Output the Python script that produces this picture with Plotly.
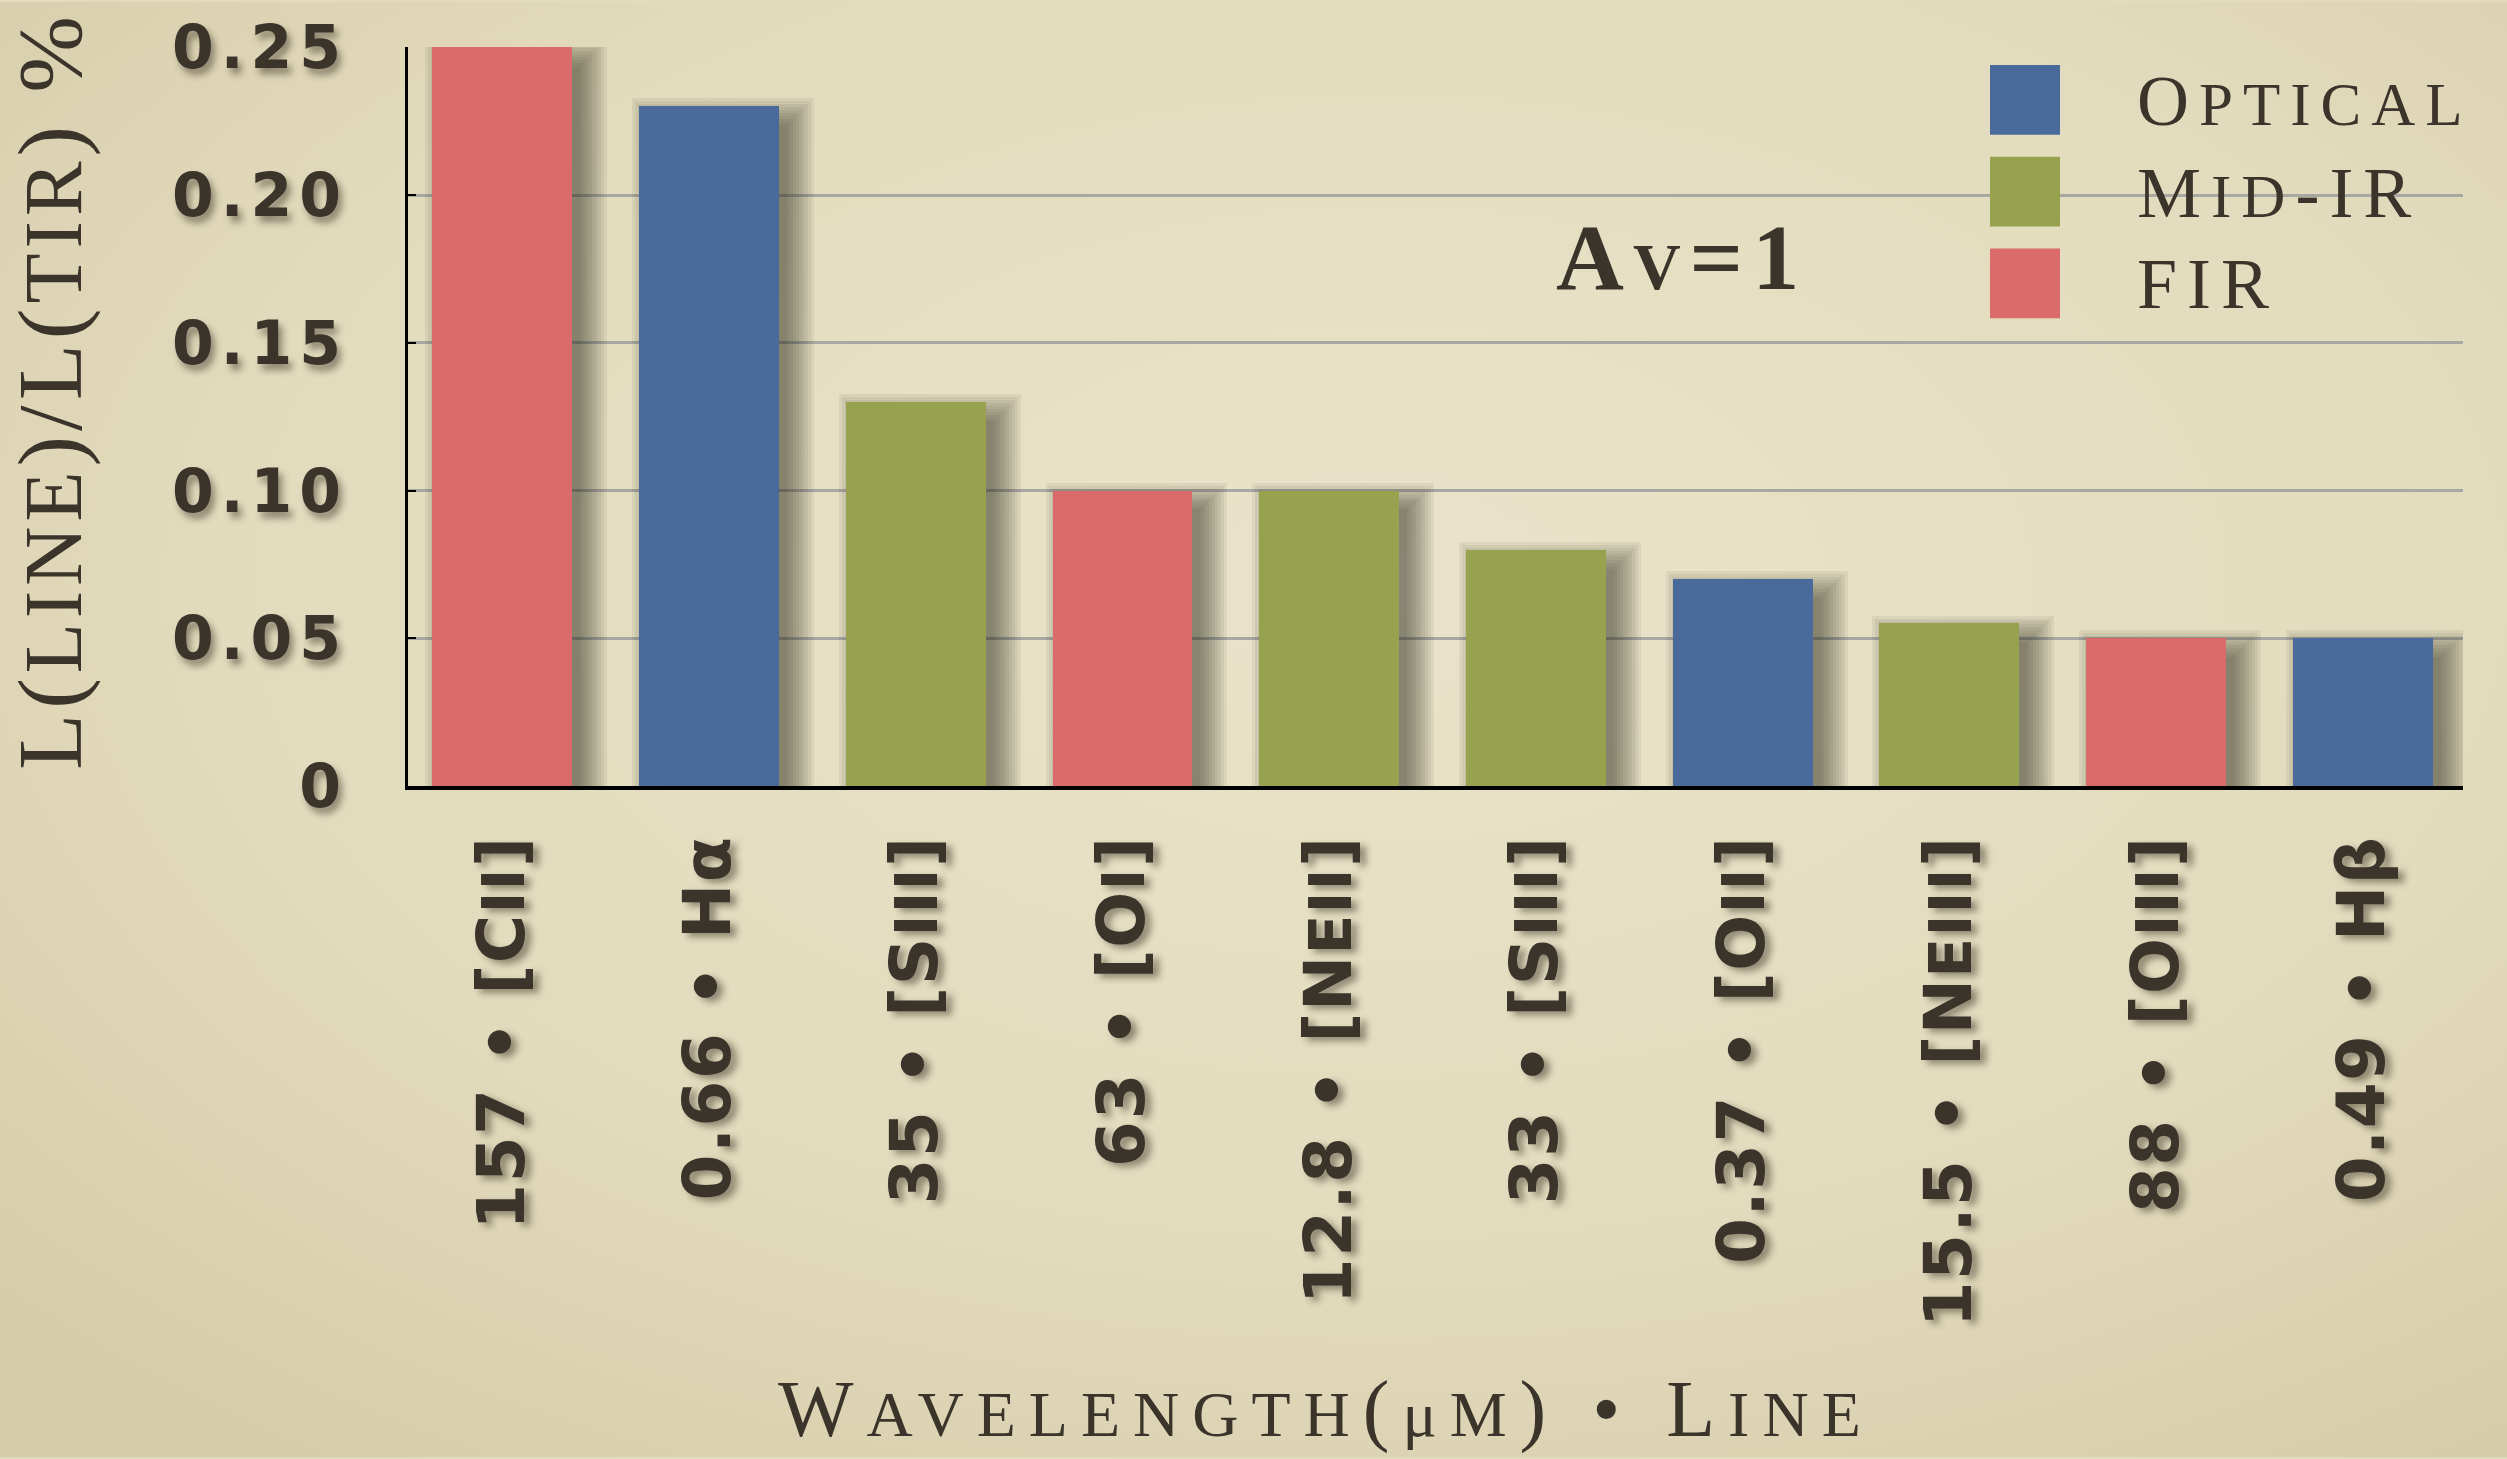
import base64
import plotly.graph_objects as go

# ---------------- data ----------------
wavelengths = ["157", "0.66", "35", "63", "12.8", "33", "0.37", "15.5", "88", "0.49"]
lines = ["[Cii]", "Hα", "[Siii]", "[Oi]", "[Neii]", "[Siii]", "[Oii]", "[Neiii]", "[Oiii]", "Hβ"]
ratios = [0.25, 0.23, 0.13, 0.10, 0.10, 0.08, 0.07, 0.055, 0.05, 0.05]
bands = ["FIR", "Optical", "Mid-IR", "FIR", "Mid-IR", "Mid-IR", "Optical", "Mid-IR", "FIR", "Optical"]
band_order = ["Optical", "Mid-IR", "FIR"]
band_colors = {"Optical": "#4A6A9C", "Mid-IR": "#97A24F", "FIR": "#DB6A6A"}
y_tick_values = [0, 0.05, 0.10, 0.15, 0.20, 0.25]
y_tick_labels = ["0", "0.05", "0.10", "0.15", "0.20", "0.25"]
x_title = "Wavelength(μm) • Line"
y_title = "L(line)/L(tir) %"
note_text = "Av=1"

# ---------------- layout geometry ----------------
W, H = 2507, 1459
plot_left, plot_right, plot_top, plot_bottom = 408, 2463, 45, 786
x_range = [-0.456, 9.484]
y_range = [0, 0.2501]
bar_width = 0.677
cat_px = (plot_right - plot_left) / (x_range[1] - x_range[0])
val_px = (plot_bottom - plot_top) / (y_range[1] - y_range[0])
INK = "#3A342B"


def px_x(x):
    return (x - plot_left) / (plot_right - plot_left)


def px_y(y):
    return (plot_bottom - y) / (plot_bottom - plot_top)


def smallcaps(text, big, small, spacing=0):
    """ASCII lowercase -> small capitals; everything else at full size."""
    runs = []
    for ch in text:
        is_small = (ch.isascii() and ch.islower()) or ch == "μ"
        size = small if is_small else big
        c = ch.upper() if (ch.isascii() and ch.islower()) else ch
        if runs and runs[-1][0] == size:
            runs[-1][1] += c
        else:
            runs.append([size, c])
    return "".join(
        f'<span style="font-size:{s}px;letter-spacing:{spacing}px">{t}</span>' for s, t in runs
    )


keys = [f"{w} • {l}" for w, l in zip(wavelengths, lines)]
x_tick_text = [smallcaps(k, 66, 58, 1.5) for k in keys]
y_tick_text = [smallcaps(t, 60, 60, 7) for t in y_tick_labels]

fig = go.Figure()

# soft drop shadows (stacked translucent copies of each bar)
shadow_dx, shadow_dy = 14, 13
for e in range(-6, 22, 3):
    w = bar_width + 2 * e / cat_px
    fig.add_trace(go.Bar(
        x=keys, y=[v + 2 * e / val_px for v in ratios],
        base=-(shadow_dy + e) / val_px,
        width=w, offset=-w / 2 + shadow_dx / cat_px,
        marker=dict(color="rgba(48,42,26,0.065)", line_width=0),
        cliponaxis=False, hoverinfo="skip", showlegend=False,
    ))

# main bars, one trace per band
for band in band_order:
    idx = [i for i, b in enumerate(bands) if b == band]
    fig.add_trace(go.Bar(
        x=[keys[i] for i in idx], y=[ratios[i] for i in idx],
        width=bar_width, name=band,
        marker=dict(color=band_colors[band], line_width=0),
        showlegend=False,
    ))

# background vignette
svg = (
    f'<svg xmlns="http://www.w3.org/2000/svg" width="{W}" height="{H}" viewBox="0 0 {W} {H}" '
    'preserveAspectRatio="none"><defs><radialGradient id="g" cx="0.55" cy="0.4" r="0.75">'
    '<stop offset="0" stop-color="#E9E4CA"/><stop offset="0.6" stop-color="#E2DBBD"/>'
    '<stop offset="1" stop-color="#D6CCAA"/></radialGradient></defs>'
    f'<rect width="{W}" height="{H}" fill="url(#g)"/></svg>'
)
bg_src = "data:image/svg+xml;base64," + base64.b64encode(svg.encode()).decode()

annotations = [
    dict(text=smallcaps(y_title, 92, 82, 5), x=px_x(50), y=px_y(390), textangle=-90,
         xref="paper", yref="paper", showarrow=False, xanchor="center", yanchor="middle",
         font=dict(family="Liberation Serif", size=92, color=INK)),
    dict(text=smallcaps(x_title, 80, 64, 13), x=px_x(1326), y=px_y(1458),
         xref="paper", yref="paper", showarrow=False, xanchor="center", yanchor="bottom",
         font=dict(family="Liberation Serif", size=80, color=INK)),
    dict(text="<b>" + smallcaps(note_text, 94, 66, 9) + "</b>", x=px_x(1682), y=px_y(256),
         xref="paper", yref="paper", showarrow=False, xanchor="center", yanchor="middle",
         font=dict(family="Liberation Serif", size=94, color=INK)),
]
shapes = []
for k, band in enumerate(band_order):
    cy = 98 + 92 * k
    shapes.append(dict(type="rect", xref="paper", yref="paper",
                       x0=px_x(1990), x1=px_x(2060), y0=px_y(cy - 35), y1=px_y(cy + 35),
                       fillcolor=band_colors[band], line_width=0))
    annotations.append(dict(text=smallcaps(band, 72, 61, 10), x=px_x(2135), y=px_y(cy + 1),
                            xref="paper", yref="paper", showarrow=False,
                            xanchor="left", yanchor="middle",
                            font=dict(family="Liberation Serif", size=72, color=INK)))

fig.update_layout(
    width=W, height=H,
    margin=dict(l=plot_left, r=W - plot_right, t=plot_top, b=H - plot_bottom, pad=0),
    paper_bgcolor="#E2DBBE", plot_bgcolor="rgba(0,0,0,0)",
    barmode="overlay", bargap=0,
    images=[dict(source=bg_src, xref="paper", yref="paper", x=px_x(0), y=px_y(0),
                 sizex=W / (plot_right - plot_left), sizey=H / (plot_bottom - plot_top),
                 xanchor="left", yanchor="top", sizing="stretch", layer="below")],
    annotations=annotations, shapes=shapes,
    xaxis=dict(type="category", categoryorder="array", categoryarray=keys, range=x_range,
               tickmode="array", tickvals=keys, ticktext=x_tick_text, tickangle=-90,
               tickfont=dict(family="DejaVu Sans", size=66, color=INK, weight="bold",
                             shadow="-4px 6px 7px rgba(40,32,20,0.45)"),
               showline=True, linecolor="black", linewidth=4, ticks="", showgrid=False,
               ticklabelstandoff=19, zeroline=False, layer="above traces"),
    yaxis=dict(range=y_range, tickmode="array", tickvals=y_tick_values, ticktext=y_tick_text,
               tickfont=dict(family="DejaVu Sans", size=60, color=INK, weight="bold",
                             shadow="4px 6px 7px rgba(40,32,20,0.45)"),
               showgrid=True, gridcolor="#A9A7A1", gridwidth=3, zeroline=False,
               showline=True, linecolor="black", linewidth=3,
               ticks="inside", ticklen=8, tickwidth=2, tickcolor="black",
               ticklabelstandoff=45, layer="above traces"),
)

fig.write_html("out.html", config={"displayModeBar": False},
               post_script="document.body.style.margin='0';document.body.style.overflow='hidden';")
